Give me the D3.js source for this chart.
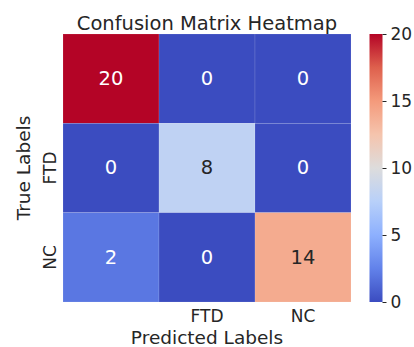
<!DOCTYPE html>
<html>
<head>
<meta charset="utf-8">
<script src="https://cdn.jsdelivr.net/npm/d3@7"></script>
<style>
  body { margin: 0; background: #fff; }
  text { font-family: "DejaVu Sans", sans-serif; fill: #262626; }
</style>
</head>
<body>
<div id="chart"></div>
<script>

// data
var rowLabels = ["", "FTD", "NC"];
var colLabels = ["", "FTD", "NC"];
var counts = [
    [20, 0, 0],
    [0, 8, 0],
    [2, 0, 14]
];
var colorTicks = [0, 5, 10, 15, 20];

var width = 414, height = 347;

var svg = d3.select("#chart").append("svg")
    .attr("width", width)
    .attr("height", height);

// coolwarm colormap, sampled at 9 points
var coolwarmStops = ["#3b4cc0", "#6282ea", "#8db0fe", "#b8d0f9", "#dddcdc",
                     "#f5c4ad", "#f49a7b", "#de604d", "#b40426"];
var coolwarm = d3.scaleLinear()
    .domain(d3.range(coolwarmStops.length).map(function(i) { return i / (coolwarmStops.length - 1); }))
    .range(coolwarmStops)
    .interpolate(d3.interpolateRgb);

var color = function(v) { return coolwarm(v / 20); };

var x = d3.scaleBand().domain(d3.range(colLabels.length)).range([63, 351]);
var y = d3.scaleBand().domain(d3.range(rowLabels.length)).range([34, 302]);

// cells
var cells = [];
counts.forEach(function(row, i) {
    row.forEach(function(v, j) {
        cells.push({row: i, col: j, value: v});
    });
});

svg.append("g").selectAll("rect")
    .data(cells)
    .enter().append("rect")
    .attr("x", function(d) { return x(d.col); })
    .attr("y", function(d) { return y(d.row); })
    .attr("width", x.bandwidth())
    .attr("height", y.bandwidth())
    .attr("fill", function(d) { return color(d.value); })
    .attr("stroke", "rgba(255,255,255,0.2)")
    .attr("stroke-width", 0.6);

// annotations
svg.append("g").selectAll("text")
    .data(cells)
    .enter().append("text")
    .attr("x", function(d) { return x(d.col) + x.bandwidth() / 2; })
    .attr("y", function(d) { return y(d.row) + y.bandwidth() / 2; })
    .attr("dy", "0.33em")
    .attr("text-anchor", "middle")
    .style("font-size", "19.5px")
    .style("fill", function(d) {
        var c = d3.rgb(color(d.value));
        var lum = 0.2126 * c.r + 0.7152 * c.g + 0.0722 * c.b;
        return lum > 150 ? "#262626" : "#ffffff";
    })
    .text(function(d) { return d.value; });

// x tick labels
var xAxis = svg.append("g")
    .attr("transform", "translate(0,302)")
    .call(d3.axisBottom(x).tickSize(0).tickPadding(8)
        .tickFormat(function(i) { return colLabels[i]; }));
xAxis.select(".domain").remove();
xAxis.selectAll("text")
    .style("font-family", "DejaVu Sans")
    .style("font-size", "17px")
    .attr("fill", "#262626");

// y tick labels (rotated)
svg.append("g").selectAll("text")
    .data(d3.range(rowLabels.length))
    .enter().append("text")
    .attr("transform", function(i) {
        return "translate(55.5," + (y(i) + y.bandwidth() / 2) + ") rotate(-90)";
    })
    .attr("text-anchor", "middle")
    .style("font-size", "17px")
    .text(function(i) { return rowLabels[i]; });

// axis labels
svg.append("text")
    .attr("x", 207)
    .attr("y", 343.5)
    .attr("text-anchor", "middle")
    .style("font-size", "18.5px")
    .text("Predicted Labels");

svg.append("text")
    .attr("transform", "translate(30,168) rotate(-90)")
    .attr("text-anchor", "middle")
    .style("font-size", "18.5px")
    .text("True Labels");

// title
svg.append("text")
    .attr("x", 207)
    .attr("y", 29.5)
    .attr("text-anchor", "middle")
    .style("font-size", "19.5px")
    .text("Confusion Matrix Heatmap");

// colorbar
var cbX = 369.5, cbW = 13;
var cbScale = d3.scaleLinear().domain([0, 20]).range([302, 34]);

var grad = svg.append("defs").append("linearGradient")
    .attr("id", "cbGrad")
    .attr("x1", "0").attr("y1", "1")
    .attr("x2", "0").attr("y2", "0");
grad.selectAll("stop")
    .data(coolwarmStops)
    .enter().append("stop")
    .attr("offset", function(d, i) { return i / (coolwarmStops.length - 1); })
    .attr("stop-color", function(d) { return d; });

svg.append("rect")
    .attr("x", cbX)
    .attr("y", cbScale(20))
    .attr("width", cbW)
    .attr("height", cbScale(0) - cbScale(20))
    .attr("fill", "url(#cbGrad)");

var cbAxis = svg.append("g")
    .attr("transform", "translate(" + (cbX + cbW) + ",0)")
    .call(d3.axisRight(cbScale).tickValues(colorTicks).tickSize(4).tickPadding(4));
cbAxis.select(".domain").remove();
cbAxis.selectAll("line").attr("stroke", "#262626");
cbAxis.selectAll("text")
    .style("font-family", "DejaVu Sans")
    .style("font-size", "17px")
    .attr("fill", "#262626");

</script>
</body>
</html>
